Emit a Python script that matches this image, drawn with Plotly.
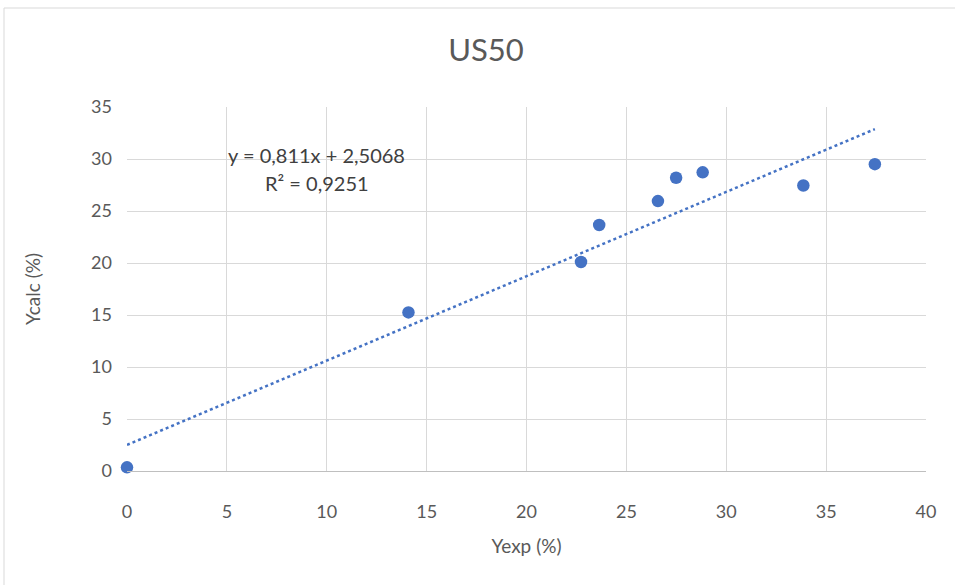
import plotly.graph_objects as go

# Measured vs calculated values (%)
yexp = [0.0, 14.09, 22.73, 23.64, 26.58, 27.49, 28.82, 33.86, 37.44]
ycalc = [0.35, 15.25, 20.1, 23.65, 25.95, 28.2, 28.72, 27.45, 29.5]

# Linear trendline coefficients as reported
slope = 0.811
intercept = 2.5068
r2 = 0.9251

x_ticks = [0, 5, 10, 15, 20, 25, 30, 35, 40]
y_ticks = [0, 5, 10, 15, 20, 25, 30, 35]

blue = "#4472C4"
grid = "#D9D9D9"
text_col = "#595959"
font_family = "Lato, 'Open Sans', sans-serif"

x_line = [0.0, max(yexp)]
y_line = [slope * v + intercept for v in x_line]

fig = go.Figure()
fig.add_trace(go.Scatter(
    x=x_line, y=y_line, mode="lines",
    line=dict(color=blue, width=2.5, dash="dot"),
    hoverinfo="skip", showlegend=False,
))
fig.add_trace(go.Scatter(
    x=yexp, y=ycalc, mode="markers",
    marker=dict(color=blue, size=12.5),
    cliponaxis=False, showlegend=False,
))

def fmt(v, digits):
    return f"{v:.{digits}f}".replace(".", ",")

l, r, t, b = 127, 29, 107, 114
W, H = 955, 585
pw, ph = W - l - r, H - t - b

# Trendline equation and R² label
fig.add_annotation(
    x=9.5, y=30.4, xref="x", yref="y", showarrow=False, yanchor="middle",
    text=f"y = {fmt(slope, 3)}x + {fmt(intercept, 4)}",
    font=dict(size=20, color="#404040", family=font_family),
)
fig.add_annotation(
    x=9.5, y=27.7, xref="x", yref="y", showarrow=False, yanchor="middle",
    text=f"R² = {fmt(r2, 4)}",
    font=dict(size=20, color="#404040", family=font_family),
)

# Chart frame
fig.add_shape(
    type="rect", xref="paper", yref="paper",
    x0=(4 - l) / pw, x1=(W + 2 - l) / pw,
    y0=(H - b - (H + 2)) / ph, y1=(H - b - 8) / ph,
    line=dict(color=grid, width=1), fillcolor="rgba(0,0,0,0)", layer="below",
)

fig.update_layout(
    width=W, height=H,
    margin=dict(l=l, r=r, t=t, b=b),
    paper_bgcolor="white", plot_bgcolor="white",
    font=dict(family=font_family, color=text_col, size=17),
    title=dict(text="US50", x=486 / W, xref="container", xanchor="center",
               y=1 - 50 / H, yanchor="middle",
               font=dict(size=31, color=text_col, family=font_family)),
    xaxis=dict(
        range=[0, 40], tickvals=x_ticks, showgrid=True, gridcolor=grid, gridwidth=1,
        zeroline=False, showline=True, linecolor="#BFBFBF", mirror=False,
        ticks="", ticklabelstandoff=24, tickfont=dict(size=18, color=text_col),
        title=dict(text="Yexp (%)", font=dict(size=19, color=text_col), standoff=19),
    ),
    yaxis=dict(
        range=[0, 35], tickvals=y_ticks, showgrid=True, gridcolor=grid, gridwidth=1,
        zeroline=False, showline=False, ticks="", ticklabelstandoff=14,
        tickfont=dict(size=18, color=text_col),
        title=dict(text="Ycalc (%)", font=dict(size=19, color=text_col), standoff=45),
    ),
)

fig.write_html("out.html")
